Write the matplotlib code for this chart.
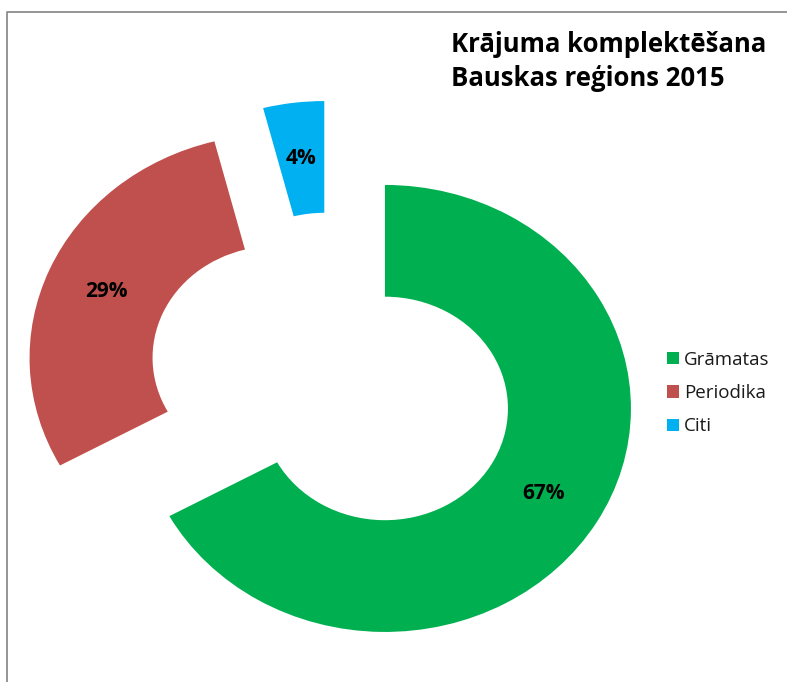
import matplotlib
matplotlib.use("Agg")
import matplotlib.pyplot as plt
from matplotlib.lines import Line2D
from matplotlib.patches import Patch

# Chart data
categories = ["Grāmatas", "Periodika", "Citi"]
shares = [67, 29, 4]
colors = ["#00B050", "#C0504D", "#00B0F0"]
title_lines = ["Krājuma komplektēšana", "Bauskas reģions 2015"]

W, H = 787, 682
plt.rcParams['font.family'] = ['Open Sans', 'DejaVu Sans']

fig = plt.figure(figsize=(W / 100, H / 100), dpi=100)
ax = fig.add_axes([0, 0, 1, 1])

wedges, texts, autotexts = ax.pie(
    shares, colors=colors, startangle=90, counterclock=False,
    explode=[0.25] * len(shares), radius=1.0,
    wedgeprops=dict(width=0.5, edgecolor='none'),
    autopct='%d%%', pctdistance=0.75,
    textprops=dict(fontsize=15, fontweight='bold', color='black'),
)

# pie centre at pixel (332, 380); radii 246 px across, 223.5 px up
cx, cy, rx, ry = 332, 380, 246, 223.5
ax.set_aspect('auto')
ax.set_xlim(-cx / rx, (W - cx) / rx)
ax.set_ylim(-(H - cy) / ry, cy / ry)
ax.axis('off')

# title
fig.text(451 / W, 1 - 52 / H, title_lines[0], fontsize=18.5, fontweight='bold', ha='left', va='baseline')
fig.text(451 / W, 1 - 86 / H, title_lines[1], fontsize=18.5, fontweight='bold', ha='left', va='baseline')

# legend
handles = [Patch(facecolor=c, edgecolor='none') for c in colors]
fig.legend(handles, categories, loc='center left', bbox_to_anchor=(667 / W, 1 - 393 / H),
           frameon=False, fontsize=13.5, handlelength=0.64, handleheight=0.64,
           handletextpad=0.25, labelspacing=0.82, borderaxespad=0, borderpad=0,
           labelcolor='#1a1a1a')

# chart border (top and left)
fig.add_artist(Line2D([7 / W, 7 / W, 1], [0, 1 - 12 / H, 1 - 12 / H],
                      transform=fig.transFigure, color='#8c8c8c', linewidth=1.3))

fig.savefig("out.png", dpi=100)
